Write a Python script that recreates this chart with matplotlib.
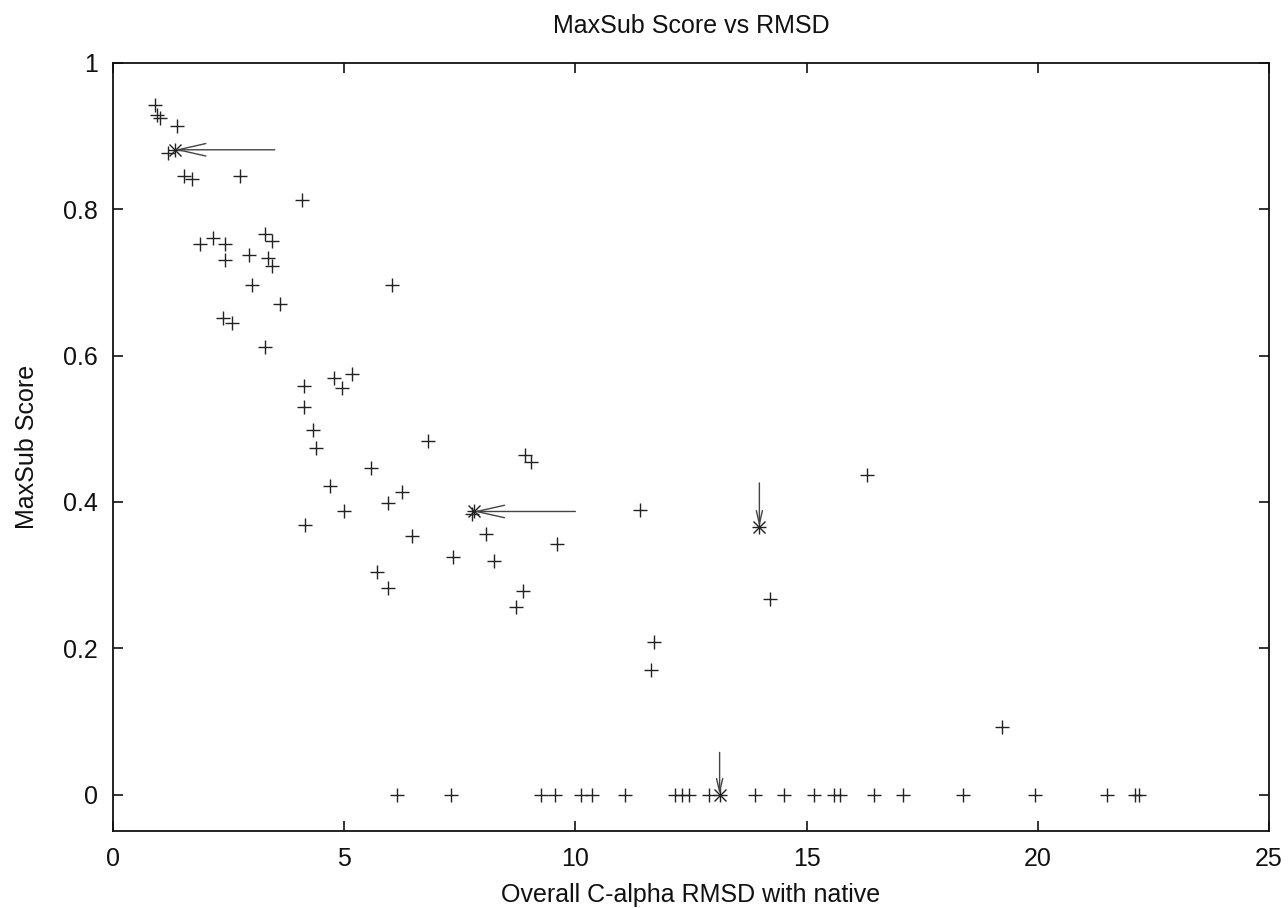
import matplotlib
matplotlib.use("Agg")
import matplotlib.pyplot as plt

# ---- data ----
plus_x = [0.92, 0.95, 1.02, 1.38, 1.20, 1.53, 1.71, 2.75, 4.08, 1.89, 2.16, 2.43, 2.43,
          2.94, 3.28, 3.44, 3.36, 3.43, 3.01, 3.61, 6.03, 2.39, 2.57, 3.29, 4.14, 4.78,
          5.16, 4.95, 4.14, 4.32, 4.40, 6.82, 5.57, 4.69, 6.26, 5.94, 5.00, 4.15, 7.76,
          8.07, 6.47, 7.36, 8.25, 5.71, 5.95, 8.91, 9.04, 11.39, 9.60, 8.86, 8.71, 14.22,
          16.30, 11.70, 11.63, 19.22]
plus_y = [0.942, 0.928, 0.925, 0.914, 0.876, 0.845, 0.841, 0.845, 0.812, 0.752, 0.760,
          0.752, 0.730, 0.737, 0.766, 0.757, 0.733, 0.722, 0.696, 0.671, 0.697, 0.651,
          0.644, 0.612, 0.558, 0.569, 0.575, 0.555, 0.530, 0.498, 0.474, 0.483, 0.446,
          0.422, 0.414, 0.399, 0.388, 0.368, 0.383, 0.356, 0.353, 0.325, 0.320, 0.304,
          0.283, 0.464, 0.455, 0.389, 0.342, 0.279, 0.257, 0.268, 0.437, 0.209, 0.171,
          0.092]
zero_x = [6.14, 7.32, 9.26, 9.57, 10.12, 10.35, 11.07, 12.15, 12.30, 12.45, 12.89, 13.88,
          14.52, 15.17, 15.60, 15.72, 16.45, 17.08, 18.38, 19.93, 21.50, 22.11, 22.20]
zero_y = [0.0] * len(zero_x)

star_x = [1.34, 7.80, 13.98, 13.12]
star_y = [0.881, 0.387, 0.366, 0.0]

arrow_from = [(3.5, 0.881), (10.0, 0.387), (13.98, 0.426), (13.12, 0.058)]
arrow_to = [(1.34, 0.881), (7.80, 0.387), (13.98, 0.366), (13.12, 0.0)]
arrow_head = [(2.0, 0.45), (2.0, 0.45), (0.95, 0.22), (0.95, 0.22)]

x_ticks = [0, 5, 10, 15, 20, 25]
y_ticks = [0, 0.2, 0.4, 0.6, 0.8, 1]
y_tick_labels = ["0", "0.2", "0.4", "0.6", "0.8", "1"]

# ---- plot ----
plt.rcParams['font.family'] = ['Liberation Sans', 'DejaVu Sans']
col = '#222222'
fs = 18
fig = plt.figure(figsize=(12.88, 9.08), dpi=100)
ax = fig.add_axes([0.0877, 0.0843, 0.8975, 0.8467])

ax.plot(plus_x, plus_y, linestyle='none', marker='+', ms=10, mew=1.0, color=col)
ax.plot(zero_x, zero_y, linestyle='none', marker='+', ms=10, mew=1.0, color=col)
ax.plot(star_x, star_y, linestyle='none', marker='+', ms=10, mew=1.0, color=col)
ax.plot(star_x, star_y, linestyle='none', marker='x', ms=8, mew=1.0, color=col)

for (x0, y0), (x1, y1), (hl, hw) in zip(arrow_from, arrow_to, arrow_head):
    ax.annotate('', xy=(x1, y1), xytext=(x0, y0),
                arrowprops=dict(arrowstyle=f'->,head_length={hl},head_width={hw}',
                                color='#444444', lw=1.0, shrinkA=0, shrinkB=0))

ax.set_xlim(0, 25)
ax.set_ylim(-0.05, 1)
ax.set_xticks(x_ticks)
ax.set_xticklabels([str(t) for t in x_ticks])
ax.set_yticks(y_ticks)
ax.set_yticklabels(y_tick_labels)
ax.tick_params(direction='in', length=7, width=1.2, top=True, right=True,
               labelsize=fs, colors='#111111')
ax.tick_params(axis='x', pad=11)
ax.tick_params(axis='y', pad=11)
for s in ax.spines.values():
    s.set_linewidth(1.3)
    s.set_color('#111111')

ax.set_title('MaxSub Score vs RMSD', fontsize=fs, pad=21, color='#111111')
ax.set_xlabel('Overall C-alpha RMSD with native', fontsize=fs, labelpad=9, color='#111111')
ax.set_ylabel('MaxSub Score', fontsize=fs, labelpad=17, color='#111111')

fig.savefig('out.png', dpi=100, facecolor='white')
